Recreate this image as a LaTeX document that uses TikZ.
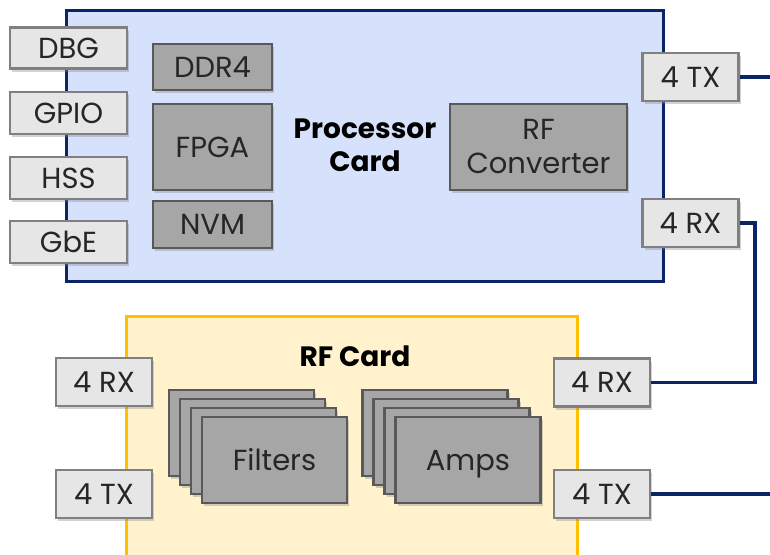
\documentclass[tikz,border=0pt]{standalone}
\usepackage{fontspec}
\setmainfont{Poppins}
\usetikzlibrary{shadows}
\definecolor{cardblue}{HTML}{D6E2FB}
\definecolor{navy}{HTML}{0A2466}
\definecolor{cardyellow}{HTML}{FFF2CC}
\definecolor{gold}{HTML}{FFC000}
\definecolor{portgray}{HTML}{E6E6E6}
\definecolor{chipgray}{HTML}{A6A6A6}
\tikzset{
	port/.style={draw=black!50, fill=portgray, line width=2.5pt, minimum width=96pt, minimum height=48pt,
		inner sep=0pt, font=\fontsize{29}{33}\selectfont, text=black!85, drop shadow={opacity=0.35, shadow xshift=2pt, shadow yshift=-3pt}},
	chip/.style={draw=black!65, fill=chipgray, line width=2.5pt, minimum width=119pt, inner sep=0pt,
		font=\fontsize{29}{34}\selectfont, text=black!85, drop shadow={opacity=0.35, shadow xshift=2pt, shadow yshift=-3pt}},
	link/.style={draw=navy, line width=3.5pt},
}
\begin{document}
\begin{tikzpicture}[x=1pt, y=-1pt]
			%%%%% BOX %%%%%
			\useasboundingbox (0, 0) rectangle (770, 554);
			
			\draw[fill=cardblue, draw=navy, line width=3pt] (66, 10) rectangle (663, 281);
			\draw[fill=cardyellow, draw=gold, line width=3pt] (126, 316) rectangle (577, 570);
			
			\node[font=\fontsize{28}{33}\selectfont\bfseries, align=center] (proclbl) at (365, 145) {Processor\\Card};
			\node[font=\fontsize{28}{33}\selectfont\bfseries] (rflbl) at (355, 356) {RF Card};
			
			%%%%% PROCESSOR %%%%%
			\node[port, minimum width=117pt, minimum height=41pt] (dbg) at (68.5, 48) {DBG};
			\node[port, minimum width=117pt, minimum height=42pt] (gpio) at (68.5, 113) {GPIO};
			\node[port, minimum width=117pt, minimum height=42pt] (hss) at (68.5, 178) {HSS};
			\node[port, minimum width=117pt, minimum height=42pt] (gbe) at (68.5, 242) {GbE};
			
			\node[chip, minimum height=46pt] (ddr) at (212.5, 67) {DDR4};
			\node[chip, minimum height=86pt] (fpga) at (212.5, 147) {FPGA};
			\node[chip, minimum height=47pt] (nvm) at (212.5, 224.5) {NVM};
			\node[chip, minimum width=177pt, minimum height=86pt, align=center] (conv) at (538.5, 147) {RF\\Converter};
			
			\node[port] (ptx) at (690.5, 77) {4 TX};
			\node[port] (prx) at (690.5, 223) {4 RX};
			
			%%%%% RF %%%%%
			\node[port] (lrx) at (104, 382) {4 RX};
			\node[port] (ltx) at (104, 494) {4 TX};
			\node[port] (rrx) at (602, 382.5) {4 RX};
			\node[port] (rtx) at (602, 494) {4 TX};
			
			\foreach \i in {3,2,1} {
				\node[chip, minimum width=145pt, minimum height=86pt] (filt\i) at ({274.5-11*\i}, {460-9*\i}) {};
				\node[chip, minimum width=145pt, minimum height=86pt] (amp\i) at ({468-11*\i}, {460-9*\i}) {};
			}
			\node[chip, minimum width=145pt, minimum height=86pt] (filters) at (274.5, 460) {Filters};
			\node[chip, minimum width=145pt, minimum height=86pt, text depth=0pt] (amps) at (468, 460) {Amps};
			
			%%%%% LINKS %%%%%
			\coordinate (txout) at (770, 77);
			\coordinate (rfout) at (770, 494);
			\draw[link] (ptx.east) -- (txout);
			\draw[link] (prx.east) -- ++(15, 0) |- (rrx.east);
			\draw[link] (rtx.east) -- (rfout);
			
			%%%%% END %%%%%
\end{tikzpicture}
\end{document}
